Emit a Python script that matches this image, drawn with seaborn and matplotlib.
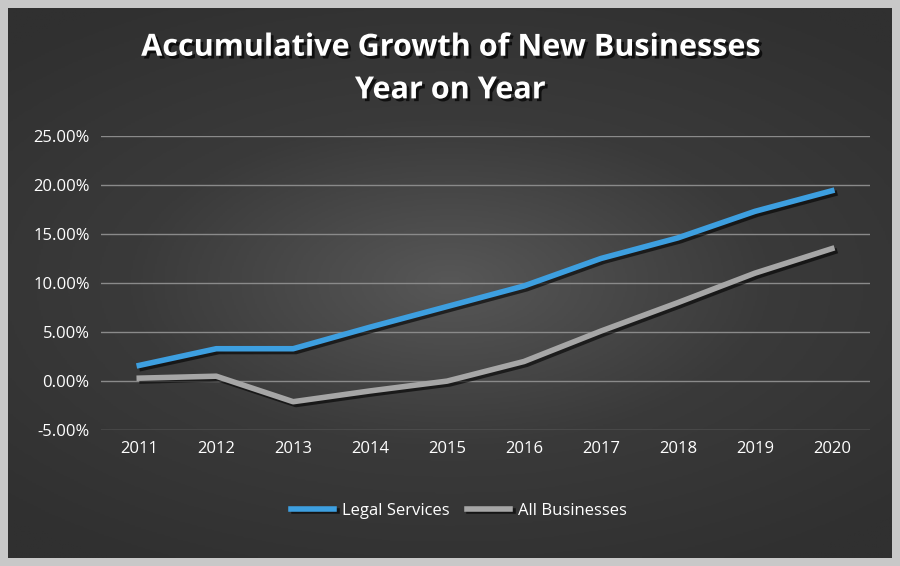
import numpy as np
import pandas as pd
import seaborn as sns
import matplotlib.pyplot as plt
import matplotlib.patheffects as pe
from matplotlib.lines import Line2D
from matplotlib.ticker import FuncFormatter

years = [2011, 2012, 2013, 2014, 2015, 2016, 2017, 2018, 2019, 2020]
legal_services = [1.6, 3.3, 3.3, 5.5, 7.6, 9.7, 12.5, 14.6, 17.3, 19.4]
all_businesses = [0.3, 0.5, -2.1, -1.0, 0.0, 2.0, 5.1, 8.0, 11.0, 13.5]

df = pd.DataFrame({"Year": [str(y) for y in years] * 2,
                   "Growth": legal_services + all_businesses,
                   "Series": ["Legal Services"] * 10 + ["All Businesses"] * 10})

plt.rcParams["font.family"] = "Open Sans"
fig = plt.figure(figsize=(9, 5.66), dpi=100)
fig.patch.set_facecolor("#c8c8c8")

# radial gradient background inside a light frame
bg = fig.add_axes([0.009, 0.014, 0.982, 0.972])
yy, xx = np.mgrid[-1:1:300j, -1:1:480j]
r = np.sqrt((xx * 0.9) ** 2 + (yy * 1.1) ** 2)
bg.imshow(r, cmap=sns.blend_palette(["#575757", "#3a3a3a", "#303030"], as_cmap=True),
          aspect="auto", extent=[0, 1, 0, 1], vmin=0, vmax=1.3)
bg.axis("off")

ax = fig.add_axes([0.112, 0.24, 0.855, 0.52])
ax.set_facecolor("none")
shadow = [pe.SimpleLineShadow(offset=(2, -2), shadow_color="black", alpha=0.6), pe.Normal()]
sns.lineplot(data=df, x="Year", y="Growth", hue="Series", sort=False,
             palette={"Legal Services": "#3d9fe0", "All Businesses": "#a6a6a6"},
             linewidth=4, ax=ax, legend=False)
for ln in ax.lines:
    ln.set_path_effects(shadow)
ax.set_ylim(-5, 25)
ax.set_yticks(np.arange(-5, 26, 5))
ax.yaxis.set_major_formatter(FuncFormatter(lambda v, p: f"{v:.2f}%"))
ax.set_xlim(-0.5, 9.5)
ax.grid(axis="y", color="#8a8a8a", linewidth=1)
ax.set_axisbelow(True)
for s in ax.spines.values():
    s.set_visible(False)
ax.tick_params(colors="white", labelsize=12, length=0, pad=8)
ax.set_xlabel("")
ax.set_ylabel("")

fig.text(0.5, 0.878, "Accumulative Growth of New Businesses\nYear on Year", ha="center",
         va="center", color="white", fontsize=22, fontweight="bold", linespacing=1.55,
         path_effects=[pe.withSimplePatchShadow(offset=(2, -2), shadow_rgbFace="black", alpha=0.7)])

handles = [Line2D([], [], color="#3d9fe0", lw=4, path_effects=shadow),
           Line2D([], [], color="#a6a6a6", lw=4, path_effects=shadow)]
fig.legend(handles, ["Legal Services", "All Businesses"], loc="center",
           bbox_to_anchor=(0.51, 0.098), ncol=2, frameon=False, fontsize=12,
           handlelength=2.6, handletextpad=0.5, columnspacing=1.0, labelcolor="white")

fig.savefig("out.png", dpi=100, facecolor=fig.get_facecolor())
